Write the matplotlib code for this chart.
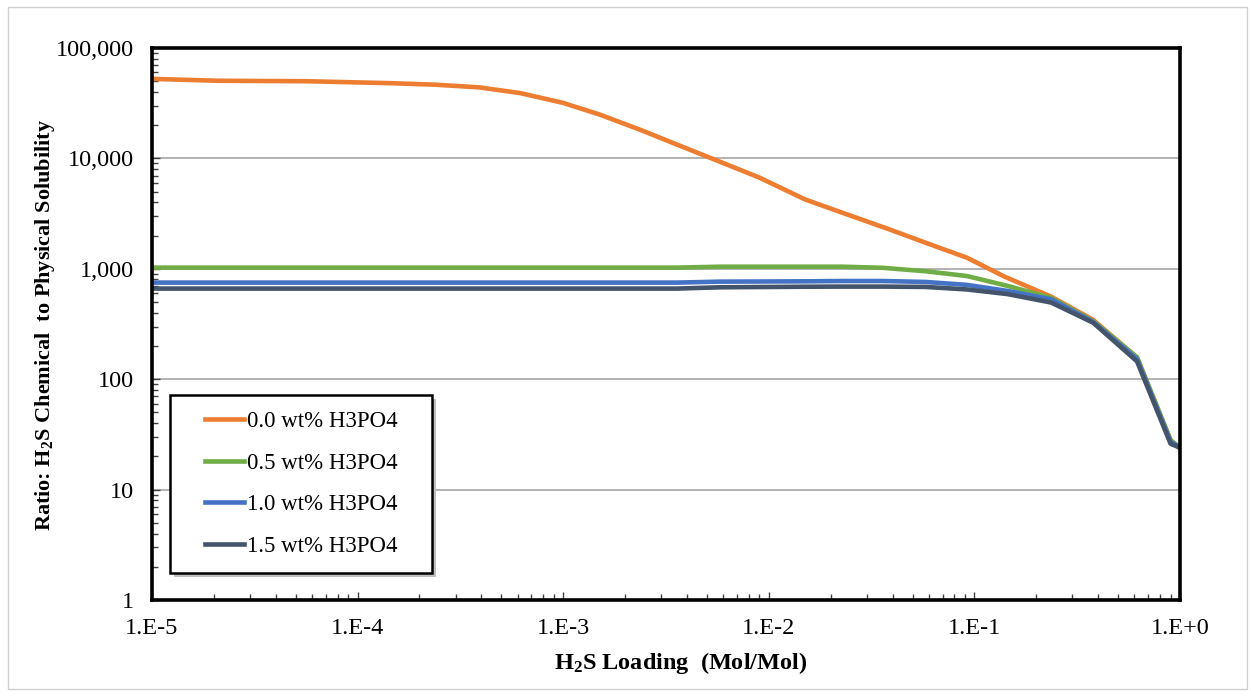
import matplotlib
matplotlib.use("Agg")
import matplotlib.pyplot as plt
from matplotlib.patches import Rectangle
from matplotlib.ticker import LogLocator, NullFormatter

plt.rcParams['font.family'] = ['Liberation Serif', 'DejaVu Serif']
plt.rcParams['mathtext.fontset'] = 'custom'
plt.rcParams['mathtext.rm'] = 'Liberation Serif'
plt.rcParams['mathtext.bf'] = 'Liberation Serif:bold'
plt.rcParams['mathtext.it'] = 'Liberation Serif:italic'

# ---- data ----
x_orange = [1e-5, 2.1e-5, 5.7e-5, 1.45e-4, 2.4e-4, 3.9e-4, 6.2e-4, 1.0e-3, 1.5e-3,
            2.4e-3, 3.7e-3, 5.2e-3, 9.0e-3, 1.5e-2, 2.3e-2, 3.9e-2, 5.8e-2, 9.2e-2,
            0.14, 0.236, 0.378, 0.618, 0.9, 1.0]
y_orange = [52500, 50500, 50000, 48000, 46500, 44000, 39000, 31800, 25000,
            18000, 13000, 10100, 6700, 4250, 3200, 2260, 1720, 1260,
            850, 560, 345, 157, 28, 23.5]

x_acid = [1e-5, 3.6e-3, 5.8e-3, 1.5e-2, 2.3e-2, 3.6e-2, 5.8e-2, 9.2e-2,
          0.145, 0.236, 0.378, 0.618, 0.9, 1.0]
y_05 = [1025, 1025, 1045, 1045, 1045, 1020, 950, 860, 700, 545, 335, 158, 28, 24]
y_10 = [750, 750, 765, 770, 775, 775, 760, 715, 630, 530, 330, 152, 27, 24]
y_15 = [662, 662, 680, 688, 690, 690, 685, 650, 590, 495, 325, 145, 26, 24]

series_labels = ["0.0 wt% H3PO4", "0.5 wt% H3PO4", "1.0 wt% H3PO4", "1.5 wt% H3PO4"]
colors = ["#ED7D31", "#70AD47", "#4472C4", "#44546A"]

xticks = [1e-5, 1e-4, 1e-3, 1e-2, 1e-1, 1e0]
xtick_labels = ["1.E-5", "1.E-4", "1.E-3", "1.E-2", "1.E-1", "1.E+0"]
yticks = [1, 10, 100, 1000, 10000, 100000]
ytick_labels = ["1", "10", "100", "1,000", "10,000", "100,000"]

# ---- figure ----
W, H = 1251, 696
fig = plt.figure(figsize=(W / 100, H / 100), dpi=100)
fig.patches.append(Rectangle((8 / W, 1 - 689 / H), (1247 - 8) / W, (689 - 7) / H,
                             transform=fig.transFigure, fill=False,
                             edgecolor="#D0D0D0", linewidth=1.0))

ax = fig.add_axes([152 / W, 1 - 600 / H, (1180 - 152) / W, (600 - 48) / H])
ax.set_xscale('log')
ax.set_yscale('log')
ax.set_xlim(1e-5, 1)
ax.set_ylim(1, 1e5)

lw = 3.3
handles = []
for xs, ys, c, lab in [(x_orange, y_orange, colors[0], series_labels[0]),
                       (x_acid, y_05, colors[1], series_labels[1]),
                       (x_acid, y_10, colors[2], series_labels[2]),
                       (x_acid, y_15, colors[3], series_labels[3])]:
    h, = ax.plot(xs, ys, color=c, linewidth=lw, label=lab, solid_joinstyle='round',
                 zorder=3)
    handles.append(h)

ax.set_xticks(xticks)
ax.set_xticklabels(xtick_labels)
ax.set_yticks(yticks)
ax.set_yticklabels(ytick_labels)
ax.xaxis.set_minor_locator(LogLocator(base=10, subs=range(2, 10), numticks=20))
ax.yaxis.set_minor_locator(LogLocator(base=10, subs=range(2, 10), numticks=20))
ax.xaxis.set_minor_formatter(NullFormatter())
ax.yaxis.set_minor_formatter(NullFormatter())

ax.tick_params(axis='both', which='major', direction='in', length=6, width=1,
               labelsize=17.5, color='#404040')
ax.tick_params(axis='both', which='minor', direction='in', length=4, width=1,
               color='#404040')
ax.tick_params(axis='x', which='major', pad=13)
ax.tick_params(axis='y', which='major', pad=13)

ax.grid(True, which='major', axis='y', color='#A6A6A6', linewidth=1.2, zorder=1)
ax.set_axisbelow(True)
for s in ax.spines.values():
    s.set_linewidth(2.6)
    s.set_color('black')
    s.set_zorder(5)

fig.text(45 / W, 1 - 325 / H,
         r"Ratio: H$_\mathbf{2}$S Chemical  to Physical Solubility",
         rotation=90, ha='center', va='center', fontsize=16, fontweight='bold')
fig.text(681 / W, 1 - 663 / H, r"H$_\mathbf{2}$S Loading  (Mol/Mol)",
         ha='center', va='center', fontsize=17.5, fontweight='bold')

# legend box with shadow
bx0, bx1 = (170 - 152) / 1028, (432 - 152) / 1028
by0, by1 = (600 - 573) / 552, (600 - 395) / 552
sh = Rectangle((bx0 + 4 / 1028, by0 - 4 / 552), bx1 - bx0, by1 - by0,
               transform=ax.transAxes, facecolor='#BFBFBF', edgecolor='none',
               zorder=6)
box = Rectangle((bx0, by0), bx1 - bx0, by1 - by0, transform=ax.transAxes,
                facecolor='white', edgecolor='black', linewidth=1.8, zorder=7)
ax.add_patch(sh)
ax.add_patch(box)
leg = ax.legend(handles=handles, loc='center',
                bbox_to_anchor=((bx0 + bx1) / 2, (by0 + by1) / 2),
                frameon=False, fontsize=16.5, handlelength=1.7, handletextpad=0.12,
                labelspacing=0.9)
leg.set_zorder(8)
for lh in leg.get_lines():
    lh.set_linewidth(3.3)

fig.savefig("out.png", dpi=100)
